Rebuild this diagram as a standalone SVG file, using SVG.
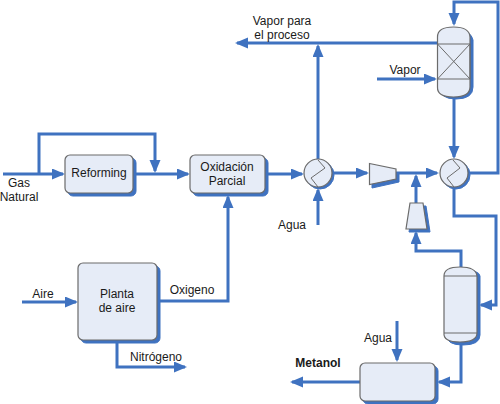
<svg xmlns="http://www.w3.org/2000/svg" width="500" height="404" viewBox="0 0 500 404">
<defs>
<marker id="a" markerUnits="userSpaceOnUse" markerWidth="14" markerHeight="12" refX="11" refY="5.5" orient="auto"><path d="M0,0L13,5.5L0,11z" fill="#3f72c0"/></marker>
</defs>
<style>
.c{fill:none;stroke:#3f72c0;stroke-width:3}
.s{fill:#3f72c0;stroke:#3f72c0;stroke-width:1}
.b{fill:#e6ecf7;stroke:#6b6b6b;stroke-width:1.2}
.l{fill:none;stroke:#6b6b6b;stroke-width:1}
text{font-family:"Liberation Sans",Arial,sans-serif;font-size:12px;fill:#1a1a1a;text-anchor:middle}
</style>
<rect width="500" height="404" fill="#fff"/>
<g id="connectors">
<path class="c" d="M3,174H63" marker-end="url(#a)"/>
<path class="c" d="M39,174V134H155V171" marker-end="url(#a)"/>
<path class="c" d="M135,174H188" marker-end="url(#a)"/>
<path class="c" d="M266,174H302" marker-end="url(#a)"/>
<path class="c" d="M318,160V46" marker-end="url(#a)"/>
<path class="c" d="M438,43H237" marker-end="url(#a)"/>
<path class="c" d="M377,79H435" marker-end="url(#a)"/>
<path class="c" d="M470,173H498V2H454V24" marker-end="url(#a)"/>
<path class="c" d="M454,98V157" marker-end="url(#a)"/>
<path class="c" d="M333,173H367" marker-end="url(#a)"/>
<path class="c" d="M396,173H437" marker-end="url(#a)"/>
<path class="c" d="M416,203V176" marker-end="url(#a)"/>
<path class="c" d="M461,267V251H416V233" marker-end="url(#a)"/>
<path class="c" d="M454,187V216H496V305H481" marker-end="url(#a)"/>
<path class="c" d="M318,225V190" marker-end="url(#a)"/>
<path class="c" d="M461,344V382H439" marker-end="url(#a)"/>
<path class="c" d="M397,321V360" marker-end="url(#a)"/>
<path class="c" d="M360,382H292" marker-end="url(#a)"/>
<path class="c" d="M22,302H76" marker-end="url(#a)"/>
<path class="c" d="M160,301H228V197" marker-end="url(#a)"/>
<path class="c" d="M117,342V367H185" marker-end="url(#a)"/>
</g>
<g id="reforming"><rect class="s" x="68" y="158" width="68" height="38" rx="5"/><rect class="b" x="65" y="155" width="68" height="38" rx="5"/><text x="99" y="177">Reforming</text></g>
<g id="oxidacion"><rect class="s" x="193" y="158" width="75" height="38" rx="5"/><rect class="b" x="190" y="155" width="75" height="38" rx="5"/><text x="227" y="171">Oxidación</text><text x="227" y="185">Parcial</text></g>
<g id="planta"><rect class="s" x="81" y="266" width="79" height="77" rx="5"/><rect class="b" x="78" y="263" width="79" height="77" rx="5"/><text x="117" y="298">Planta</text><text x="117" y="312">de aire</text></g>
<g id="hx1"><circle class="s" cx="320" cy="175" r="14"/><circle class="b" cx="318" cy="173" r="14"/><path class="l" d="M318,160L325,168L311,178L318,187"/></g>
<g id="hx2"><circle class="s" cx="456" cy="175" r="14"/><circle class="b" cx="454" cy="173" r="14"/><path class="l" d="M453,160L460,168L447,178L454,187"/></g>
<g id="comp1"><path class="s" d="M372,168L399,173V182L372,188z"/><path class="b" d="M369.500,163.500L396,169V179L369.500,184.500z"/></g>
<g id="comp2"><path class="s" d="M413,206H426L430,232H409z"/><path class="b" d="M410,203H423L427,229H406z"/></g>
<g id="reactor"><path class="s" d="M441,40Q441,30 456,30T473,40V87Q473,99 456,99T441,87z"/><path class="b" d="M437.500,37Q437.500,27 453.500,27T470,37V87Q470,97 453.500,97T437.500,87z"/><path class="l" d="M437.500,44H470V79H437.500zM437.500,44L470,79M470,44L437.500,79"/></g>
<g id="vessel"><path class="s" d="M447,276Q447,270 463,270T480,276V335Q480,345 463,345T447,335z"/><path class="b" d="M444,276Q444,267 460,267T477,276V333Q477,342 460,342T444,333z"/><path class="l" d="M444,276H477M444,333H477"/></g>
<g id="tanque"><rect class="s" x="363" y="366" width="75" height="38" rx="5"/><rect class="b" x="360" y="363" width="75" height="38" rx="5"/></g>
<g id="labels">
<text x="19" y="187">Gas</text><text x="19" y="201">Natural</text>
<text x="282" y="25">Vapor para</text><text x="282" y="39">el proceso</text>
<text x="405" y="74">Vapor</text>
<text x="292" y="229">Agua</text>
<text x="43" y="298">Aire</text>
<text x="192" y="294">Oxigeno</text>
<text x="156" y="361">Nitrógeno</text>
<text x="378" y="342">Agua</text>
<text x="318" y="367" style="font-weight:bold">Metanol</text>
</g>
</svg>
